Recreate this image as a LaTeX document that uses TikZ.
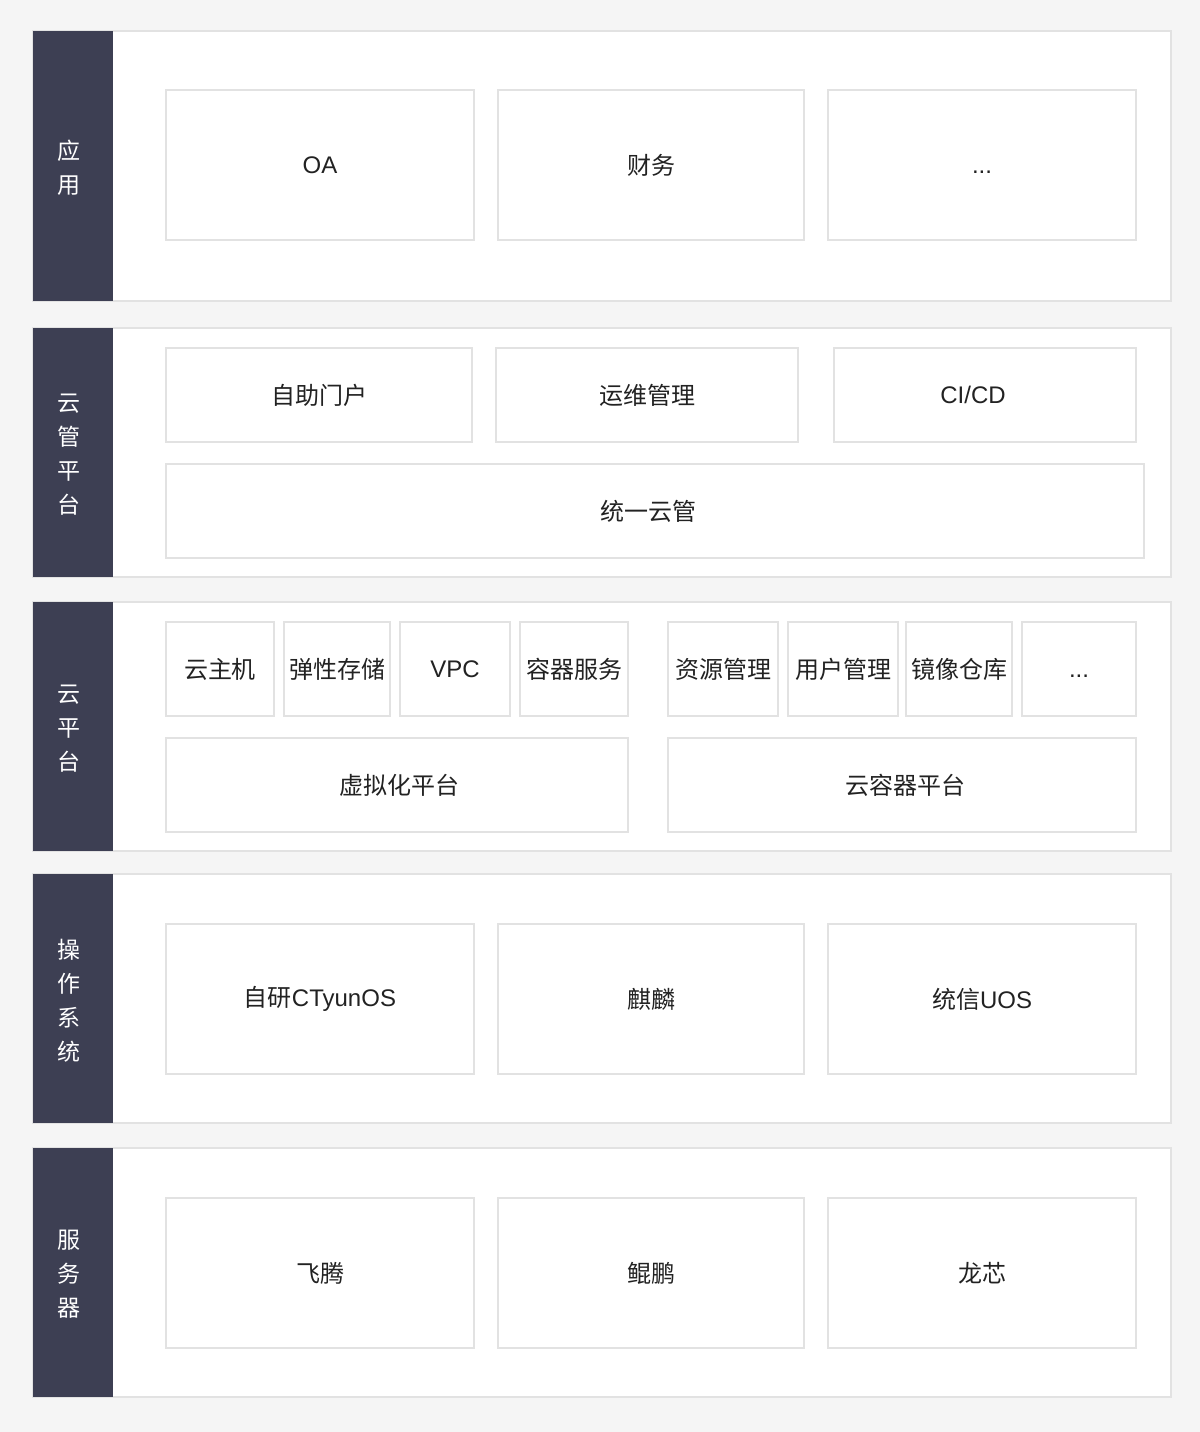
\documentclass[tikz,border=0pt]{standalone}
\usepackage{fontspec}
\setmainfont{Liberation Sans}
\newfontfamily\cjk{Noto Sans CJK SC}
\usepackage{tikz}
\usetikzlibrary{fit}
\definecolor{pagebg}{HTML}{F5F5F5}
\definecolor{barbg}{HTML}{3D3F53}
\definecolor{edge}{HTML}{E2E2E2}
\definecolor{ink}{HTML}{222222}

\begin{document}
\begin{tikzpicture}[x=0.5pt,y=-0.5pt]
            \tikzstyle{layer}=[draw=edge,line width=1pt,fill=white,inner sep=0pt]
            \tikzstyle{side bar}=[fill=barbg,inner sep=0pt]
            \tikzstyle{side text}=[text=white,align=center,font=\cjk\fontsize{11.5}{17}\selectfont,yshift=-1pt,xshift=-2pt]
            \tikzstyle{item}=[draw=edge,line width=1pt,fill=white,inner sep=0pt]
            \tikzstyle{item text}=[text=ink,inner sep=0pt,font=\fontsize{12}{14}\selectfont]

            \fill[pagebg] (0,0) rectangle (1200,1432);
            \useasboundingbox (0,0) rectangle (1200,1432);

            % layers
            \node[layer,fit={(33,31) (1171,301)}] (app) {};
            \node[layer,fit={(33,328) (1171,577)}] (cmp) {};
            \node[layer,fit={(33,602) (1171,851)}] (cloud) {};
            \node[layer,fit={(33,874) (1171,1123)}] (os) {};
            \node[layer,fit={(33,1148) (1171,1397)}] (srv) {};

            \node[side bar,fit={(33,31) (113,301)},label={[side text]center:应\\用}] (appL) {};
            \node[side bar,fit={(33,328) (113,577)},label={[side text]center:云\\管\\平\\台}] (cmpL) {};
            \node[side bar,fit={(33,602) (113,851)},label={[side text]center:云\\平\\台}] (cloudL) {};
            \node[side bar,fit={(33,874) (113,1123)},label={[side text]center:操\\作\\系\\统}] (osL) {};
            \node[side bar,fit={(33,1148) (113,1397)},label={[side text]center:服\\务\\器}] (srvL) {};

            % applications
            \node[item,fit={(166,90) (474,240)},label={[item text]center:OA}] (oa) {};
            \node[item,fit={(498,90) (804,240)},label={[item text]center:\cjk 财务}] (fin) {};
            \node[item,fit={(828,90) (1136,240)},label={[item text]center:\vphantom{A}...}] (appMore) {};

            % cloud management
            \node[item,fit={(166,348) (472,442)},label={[item text]center:\cjk 自助门户}] (portal) {};
            \node[item,fit={(496,348) (798,442)},label={[item text]center:\cjk 运维管理}] (ops) {};
            \node[item,fit={(834,348) (1136,442)},label={[item text,xshift=-6pt]center:CI/CD}] (cicd) {};
            \node[item,fit={(166,464) (1144,558)},label={[item text,xshift=-3.5pt]center:\cjk 统一云管}] (unified) {};

            % cloud platform
            \node[item,fit={(166,622) (274,716)},label={[item text]center:\cjk 云主机}] (host) {};
            \node[item,fit={(284,622) (390,716)},label={[item text]center:\cjk 弹性存储}] (store) {};
            \node[item,fit={(400,622) (510,716)},label={[item text]center:VPC}] (vpc) {};
            \node[item,fit={(520,622) (628,716)},label={[item text]center:\cjk 容器服务}] (ctr) {};
            \node[item,fit={(668,622) (778,716)},label={[item text]center:\cjk 资源管理}] (res) {};
            \node[item,fit={(788,622) (898,716)},label={[item text]center:\cjk 用户管理}] (user) {};
            \node[item,fit={(906,622) (1012,716)},label={[item text]center:\cjk 镜像仓库}] (img) {};
            \node[item,fit={(1022,622) (1136,716)},label={[item text]center:\vphantom{A}...}] (cloudMore) {};
            \node[item,fit={(166,738) (628,832)},label={[item text,xshift=1pt]center:\cjk 虚拟化平台}] (virt) {};
            \node[item,fit={(668,738) (1136,832)},label={[item text,xshift=1.5pt]center:\cjk 云容器平台}] (ctrPlat) {};

            % operating systems
            \node[item,fit={(166,924) (474,1074)},label={[item text]center:{\cjk 自研}CTyunOS}] (ctyun) {};
            \node[item,fit={(498,924) (804,1074)},label={[item text]center:\cjk 麒麟}] (kylin) {};
            \node[item,fit={(828,924) (1136,1074)},label={[item text]center:{\cjk 统信}UOS}] (uos) {};

            % servers
            \node[item,fit={(166,1198) (474,1348)},label={[item text]center:\cjk 飞腾}] (ft) {};
            \node[item,fit={(498,1198) (804,1348)},label={[item text]center:\cjk 鲲鹏}] (kp) {};
            \node[item,fit={(828,1198) (1136,1348)},label={[item text]center:\cjk 龙芯}] (lx) {};
        \end{tikzpicture}
\end{document}
